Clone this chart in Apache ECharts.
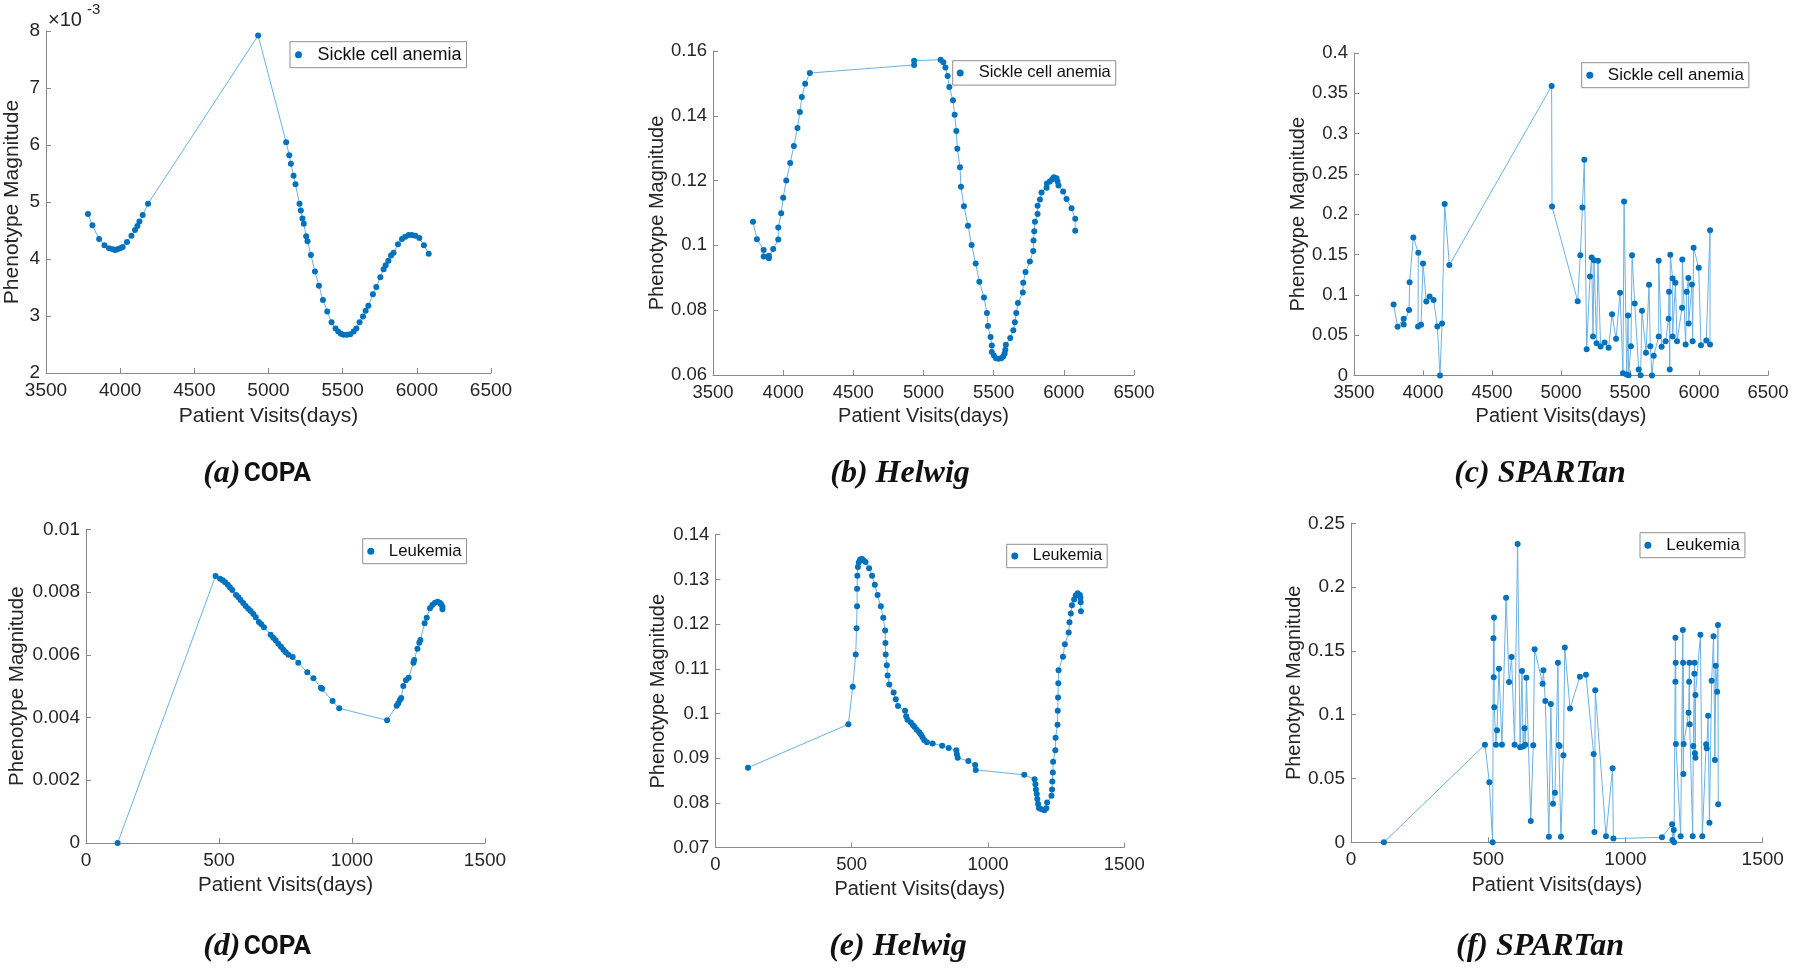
<!DOCTYPE html>
<html><head><meta charset="utf-8">
<script src="https://cdn.jsdelivr.net/npm/echarts@6/dist/echarts.min.js"></script>
<style>html,body{margin:0;padding:0;background:#fff;}#c{width:1800px;height:970px;}</style>
</head><body><div id="c"></div>
<script>
// ---------------- DATA ----------------
// (a) COPA, Sickle cell anemia  (magnitude in units of 1e-3)
const copaSickleDays = [3783,3813,3858,3894,3925,3950,3966,3981,4000,4017,4046,4076,4100,4116,4130,4152,4188,4930,5119,5140,5151,5169,5182,5209,5218,5229,5238,5254,5263,5286,5313,5340,5367,5396,5425,5452,5470,5488,5506,5529,5551,5574,5592,5614,5637,5655,5673,5704,5727,5754,5776,5790,5808,5826,5843,5873,5900,5922,5945,5967,5990,6017,6048,6080];
const copaSickleMag = [4.79,4.59,4.35,4.24,4.19,4.17,4.16,4.17,4.19,4.21,4.30,4.41,4.51,4.58,4.66,4.77,4.97,7.92,6.05,5.82,5.67,5.46,5.31,4.97,4.85,4.71,4.62,4.40,4.31,4.07,3.78,3.53,3.28,3.08,2.89,2.78,2.73,2.69,2.67,2.67,2.68,2.73,2.78,2.89,2.99,3.09,3.18,3.38,3.51,3.68,3.82,3.89,3.97,4.06,4.11,4.26,4.35,4.39,4.42,4.42,4.41,4.37,4.24,4.09];

// (b) Helwig, Sickle cell anemia
const helwigSickleDays = [3785,3813,3861,3861,3898,3898,3929,3965,3965,3986,4000,4022,4050,4076,4102,4119,4133,4157,4190,4933,4933,5122,5141,5156,5172,5184,5210,5222,5234,5241,5260,5267,5288,5317,5343,5372,5398,5431,5452,5459,5478,5487,5487,5502,5516,5535,5554,5568,5578,5583,5587,5618,5640,5651,5661,5673,5708,5711,5727,5758,5782,5784,5789,5794,5813,5813,5830,5841,5877,5879,5900,5917,5929,5948,5955,5962,5995,6019,6055,6081,6081];
const helwigSickleMag = [0.1073,0.1019,0.0986,0.0966,0.0968,0.0960,0.0989,0.1018,0.1055,0.1099,0.1147,0.1200,0.1254,0.1307,0.1362,0.1412,0.1458,0.1499,0.1532,0.1557,0.1570,0.1573,0.1565,0.1549,0.1523,0.1489,0.1448,0.1403,0.1353,0.1298,0.1241,0.1181,0.1121,0.1061,0.1001,0.0944,0.0888,0.0839,0.0791,0.0751,0.0717,0.0691,0.0671,0.0660,0.0652,0.0650,0.0652,0.0657,0.0666,0.0678,0.0693,0.0714,0.0738,0.0763,0.0791,0.0822,0.0855,0.0885,0.0918,0.0950,0.0983,0.1015,0.1044,0.1073,0.1097,0.1122,0.1142,0.1163,0.1178,0.1191,0.1197,0.1204,0.1210,0.1207,0.1197,0.1185,0.1166,0.1143,0.1115,0.1082,0.1045];

// (c) SPARTan, Sickle cell anemia
const spartanSickleDays = [3787,3816,3860,3860,3899,3903,3930,3966,3964,3986,4000,4024,4048,4077,4104,4123,4138,4157,4191,4932,4935,5121,5140,5155,5169,5186,5210,5222,5232,5239,5258,5268,5287,5316,5345,5370,5399,5428,5449,5457,5476,5486,5490,5507,5515,5534,5563,5577,5587,5616,5638,5647,5659,5672,5708,5708,5729,5758,5780,5783,5788,5792,5809,5809,5829,5841,5877,5879,5903,5911,5923,5925,5949,5954,5961,5998,6014,6053,6080,6080];
const spartanSickleMag = [0.0881,0.0604,0.0703,0.0633,0.0811,0.1158,0.1713,0.1522,0.0608,0.0629,0.1390,0.0918,0.0980,0.0935,0.0608,0.0000,0.0645,0.2126,0.1369,0.3590,0.2097,0.0922,0.1493,0.2085,0.2676,0.0327,0.1229,0.1464,0.0484,0.1431,0.0401,0.1423,0.0360,0.0410,0.0343,0.0761,0.0455,0.1026,0.0029,0.2159,0.0012,0.0745,0.0004,0.0364,0.1493,0.0893,0.0074,0.0004,0.0802,0.0281,0.1125,0.0364,0.0000,0.0244,0.0484,0.1423,0.0356,0.0426,0.0703,0.1038,0.0074,0.1497,0.1204,0.0484,0.1150,0.0426,0.0840,0.1440,0.0385,0.1038,0.1208,0.0645,0.1129,0.0426,0.1584,0.1336,0.0376,0.0434,0.1803,0.0385];

// (d) COPA, Leukemia
const copaLeukDays = [119,487,504,514,523,533,541,550,564,573,581,591,600,610,619,629,638,650,659,669,694,704,713,723,733,742,751,761,777,798,832,855,883,888,927,952,1132,1168,1174,1180,1185,1193,1203,1213,1231,1234,1246,1253,1257,1273,1281,1293,1302,1312,1322,1330,1335,1340,1340];
const copaLeukMag = [0.0,0.00851,0.008427,0.008374,0.00831,0.008236,0.008151,0.008066,0.007906,0.007832,0.007747,0.007651,0.007556,0.007471,0.007396,0.0073,0.007195,0.007046,0.006971,0.006876,0.006642,0.006546,0.006461,0.006355,0.006259,0.006164,0.006079,0.006004,0.00593,0.005749,0.005441,0.00525,0.004952,0.00492,0.004527,0.004293,0.003911,0.004378,0.004453,0.004559,0.004623,0.005005,0.005186,0.005271,0.005749,0.005834,0.006196,0.006387,0.006472,0.007003,0.007184,0.007481,0.007588,0.007662,0.007694,0.007662,0.007609,0.007534,0.00745];

// (e) Helwig, Leukemia
const helwigLeukDays = [120,488,504,515,518,520,520,521,523,526,531,537,543,551,564,575,585,595,607,616,623,624,625,629,632,638,654,662,670,696,700,705,717,725,731,739,748,754,760,766,776,797,832,856,884,886,889,928,953,955,1133,1171,1174,1176,1179,1181,1184,1187,1196,1207,1214,1217,1233,1235,1236,1238,1239,1247,1248,1255,1256,1257,1258,1259,1275,1282,1296,1299,1304,1308,1316,1322,1329,1337,1339,1340,1341];
const helwigLeukMag = [0.0879,0.0976,0.1060,0.1132,0.1191,0.1240,0.1279,0.1308,0.1328,0.1338,0.1344,0.1346,0.1343,0.1339,0.1325,0.1308,0.1288,0.1265,0.1240,0.1214,0.1186,0.1158,0.1132,0.1108,0.1085,0.1065,0.1047,0.1032,0.1017,0.1006,0.0994,0.0986,0.0980,0.0974,0.0970,0.0964,0.0958,0.0953,0.0947,0.0941,0.0936,0.0933,0.0928,0.0923,0.0918,0.0909,0.0901,0.0894,0.0885,0.0874,0.0863,0.0853,0.0842,0.0830,0.0820,0.0809,0.0798,0.0789,0.0786,0.0784,0.0788,0.0801,0.0816,0.0830,0.0848,0.0868,0.0892,0.0918,0.0946,0.0975,0.1006,0.1036,0.1068,0.1097,0.1127,0.1155,0.1181,0.1204,0.1224,0.1242,0.1255,0.1264,0.1269,0.1265,0.1259,0.1249,0.1229];

// (f) SPARTan, Leukemia
const spartanLeukDays = [120,488,504,516,519,520,521,522,528,532,539,550,565,576,585,596,607,616,623,627,632,635,639,655,664,669,698,701,708,721,728,736,743,754,757,760,765,774,779,798,834,856,884,887,890,929,953,956,1133,1170,1171,1176,1177,1182,1182,1183,1184,1201,1209,1211,1210,1212,1230,1232,1233,1234,1245,1247,1251,1252,1253,1255,1255,1273,1280,1294,1296,1301,1306,1314,1321,1326,1329,1334,1337,1338];
const spartanLeukMag = [0.0,0.0765,0.047,0.0,0.1599,0.1293,0.1761,0.1058,0.0765,0.0878,0.1361,0.0765,0.1917,0.1257,0.1452,0.0765,0.2338,0.0745,0.1343,0.075,0.0893,0.0765,0.129,0.0167,0.076,0.1513,0.1243,0.1348,0.1108,0.0044,0.1084,0.0303,0.0389,0.1408,0.0763,0.0755,0.0044,0.0682,0.1526,0.1048,0.1298,0.1314,0.0692,0.0081,0.1191,0.0047,0.058,0.0029,0.0039,0.0141,0.0018,0.0096,0.0,0.1604,0.1259,0.1408,0.077,0.0047,0.1664,0.0535,0.1408,0.077,0.1016,0.1259,0.1408,0.0925,0.0047,0.0755,0.1321,0.1408,0.0697,0.0663,0.1154,0.1627,0.0047,0.0768,0.0737,0.0992,0.0154,0.1266,0.1614,0.0645,0.1384,0.118,0.1703,0.0298];

// tick labels
const sickleXTicks = [3500,4000,4500,5000,5500,6000,6500];
const leukXTicks = [0,500,1000,1500];
const copaSickleYTicks = [2,3,4,5,6,7,8];
const helwigSickleYTicks = [0.06,0.08,0.1,0.12,0.14,0.16];
const spartanSickleYTicks = [0,0.05,0.1,0.15,0.2,0.25,0.3,0.35,0.4];
const copaLeukYTicks = [0,0.002,0.004,0.006,0.008,0.01];
const helwigLeukYTicks = [0.07,0.08,0.09,0.1,0.11,0.12,0.13,0.14];
const spartanLeukYTicks = [0,0.05,0.1,0.15,0.2,0.25];

const captions = ['(a)','(b)','(c)','(d)','(e)','(f)'];
const methods = ['COPA','Helwig','SPARTan','COPA','Helwig','SPARTan'];
const diseases = ['Sickle cell anemia','Sickle cell anemia','Sickle cell anemia','Leukemia','Leukemia','Leukemia'];
const xLabel = 'Patient Visits(days)';
const yLabel = 'Phenotype Magnitude';

// ---------------- LAYOUT ----------------
const SANS = '"Liberation Sans", Arial, Helvetica, sans-serif';
const AX = '#8a8a8a', TXT = '#262626', DOT = '#0072BD', LINE = '#6cb1e2';

const panels = [
  {days:copaSickleDays, mag:copaSickleMag, xt:sickleXTicks, yt:copaSickleYTicks,
   grid:{left:46,top:31,width:445,height:342}, tfs:19, nfs:21, yGap:23, xGap:33,
   lg:{left:290,top:41.7,pl:5,pr:5,pv:4,w:28,fs:18,lh:18}, cap:{x:257,y:474}},
  {days:helwigSickleDays, mag:helwigSickleMag, xt:sickleXTicks, yt:helwigSickleYTicks,
   grid:{left:713,top:51,width:421,height:324}, tfs:18.5, nfs:20, yGap:45, xGap:31,
   lg:{left:952.7,top:60.7,pl:4,pr:5,pv:3.7,w:27,fs:16.5,lh:16}, cap:{x:900,y:474}},
  {days:spartanSickleDays, mag:spartanSickleMag, xt:sickleXTicks, yt:spartanSickleYTicks,
   grid:{left:1354,top:53,width:414,height:322.5}, tfs:18.5, nfs:20, yGap:44, xGap:31,
   lg:{left:1581.7,top:62.7,pl:4.6,pr:5,pv:4,w:26,fs:17,lh:17}, cap:{x:1540,y:474}},
  {days:copaLeukDays, mag:copaLeukMag, xt:leukXTicks, yt:copaLeukYTicks,
   grid:{left:86,top:529.3,width:399,height:313.7}, tfs:19, nfs:20.5, yGap:58, xGap:32,
   lg:{left:362.7,top:538.7,pl:4.6,pr:5,pv:4,w:26,fs:16.8,lh:16}, cap:{x:257,y:947}},
  {days:helwigLeukDays, mag:helwigLeukMag, xt:leukXTicks, yt:helwigLeukYTicks,
   grid:{left:715.3,top:534.7,width:409,height:313}, tfs:18.5, nfs:20, yGap:47, xGap:32,
   lg:{left:1006.7,top:544.3,pl:4.6,pr:5,pv:3.7,w:26,fs:16,lh:16}, cap:{x:898,y:947}},
  {days:spartanLeukDays, mag:spartanLeukMag, xt:leukXTicks, yt:spartanLeukYTicks,
   grid:{left:1351,top:523.3,width:411.7,height:319}, tfs:19, nfs:20, yGap:46, xGap:33,
   lg:{left:1640,top:532.7,pl:4.4,pr:5,pv:4,w:26.6,fs:17,lh:17}, cap:{x:1540,y:947}}
];

const fmt = v => String(+(+v).toFixed(6));

const option = {animation:false, backgroundColor:'#fff', grid:[], xAxis:[], yAxis:[], series:[], legend:[], graphic:[]};

panels.forEach((p,i) => {
  option.grid.push(Object.assign({containLabel:false}, p.grid));
  const mkAxis = (ticks, fs) => ({
    type:'value', gridIndex:i, min:ticks[0], max:ticks[ticks.length-1],
    interval: +(ticks[1]-ticks[0]).toFixed(6),
    axisLine:{show:true, onZero:false, lineStyle:{color:AX, width:1}},
    axisTick:{show:true, inside:true, length:5, lineStyle:{color:AX}},
    axisLabel:{color:TXT, fontSize:fs, fontFamily:SANS, formatter:fmt},
    splitLine:{show:false},
    nameLocation:'middle',
    nameTextStyle:{color:TXT, fontSize:p.nfs, fontFamily:SANS}
  });
  const xa = mkAxis(p.xt, p.tfs);
  xa.name = xLabel; xa.nameGap = p.xGap; xa.axisLabel.margin = 8;
  const ya = mkAxis(p.yt, p.tfs);
  ya.name = yLabel; ya.nameGap = p.yGap; ya.axisLabel.margin = 6;
  option.xAxis.push(xa); option.yAxis.push(ya);
  option.series.push({
    type:'line', name:diseases[i], xAxisIndex:i, yAxisIndex:i,
    data:p.days.map((d,k)=>[d,p.mag[k]]),
    symbol:'circle', symbolSize:6, showSymbol:true,
    itemStyle:{color:DOT}, lineStyle:{color:LINE, width:1},
    emphasis:{disabled:true}, silent:true
  });
  const L = p.lg;
  option.legend.push({
    data:[{name:diseases[i], icon:'circle', itemStyle:{color:DOT}}],
    left:L.left, top:L.top, orient:'horizontal',
    padding:[L.pv, L.pr, L.pv, L.pl], itemWidth:L.w, itemHeight:7, itemGap:0,
    borderColor:'#8f8f8f', borderWidth:1, borderRadius:0, backgroundColor:'#fff',
    textStyle:{color:'#111', fontSize:L.fs, lineHeight:L.lh, fontFamily:SANS},
    selectedMode:false
  });
  const rich = {
    i:{fontFamily:'"Liberation Serif", serif', fontStyle:'italic', fontWeight:'bold', fontSize:32, fill:'#111'},
    s:{fontFamily:'Roboto, "Liberation Sans", sans-serif', fontWeight:'bold', fontSize:26, fill:'#111'}
  };
  const txt = methods[i] === 'COPA' ? '{i|' + captions[i] + '} {s|COPA}' : '{i|' + captions[i] + ' ' + methods[i] + '}';
  option.graphic.push({type:'text', x:p.cap.x, y:p.cap.y, silent:true,
    style:{text:txt, rich:rich, align:'center', verticalAlign:'middle', fill:'#111'}});
});

// exponent label for panel (a)
option.graphic.push({type:'text', x:48, y:10, silent:true,
  style:{text:'\u00d710', font:'20px "Liberation Sans", Arial, sans-serif', fill:TXT}});
option.graphic.push({type:'text', x:87, y:2, silent:true,
  style:{text:'-3', font:'15px "Liberation Sans", Arial, sans-serif', fill:TXT}});

const chart = echarts.init(document.getElementById('c'), null, {renderer:'canvas'});
chart.setOption(option);
</script>
</body></html>
